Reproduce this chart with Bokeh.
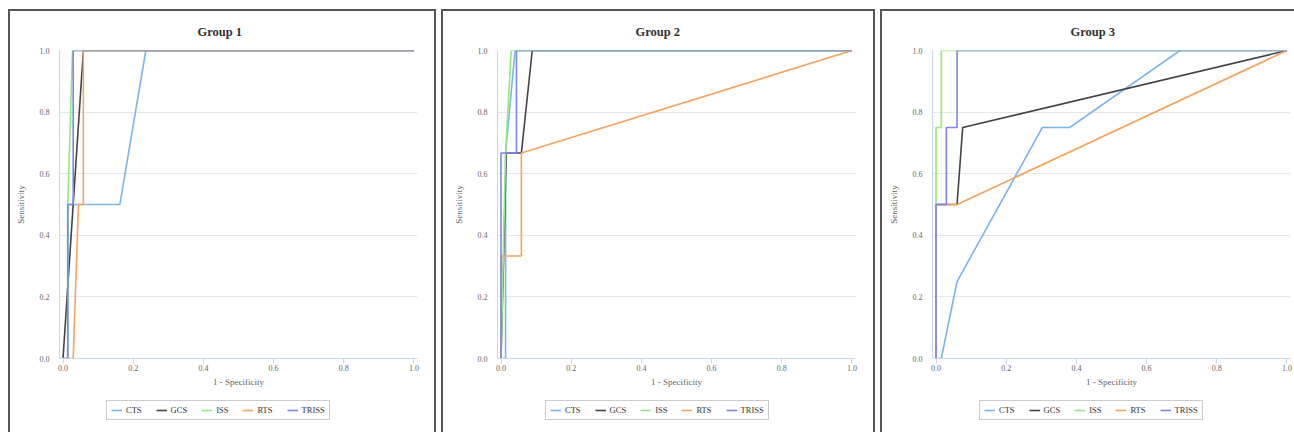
from bokeh.plotting import figure
from bokeh.layouts import row, column
from bokeh.models import Legend, LegendItem, Range1d, FixedTicker, PrintfTickFormatter
from bokeh.embed import file_html
from bokeh.resources import INLINE

series_names = ["CTS", "GCS", "ISS", "RTS", "TRISS"]
series_colors = ["#7cb5ec", "#434348", "#90ed7d", "#f7a35c", "#8085e9"]
ticks = [0.0, 0.2, 0.4, 0.6, 0.8, 1.0]

# Group 1 (x = 1 - specificity, y = sensitivity)
g1_cts_x = [0.0, 0.0135, 0.0135, 0.162, 0.236, 1.0]
g1_cts_y = [0.0, 0.0, 0.5, 0.5, 1.0, 1.0]
g1_gcs_x = [0.0, 0.058, 1.0]
g1_gcs_y = [0.0, 1.0, 1.0]
g1_iss_x = [0.0, 0.0135, 0.0135, 0.027, 1.0]
g1_iss_y = [0.0, 0.0, 0.5, 1.0, 1.0]
g1_rts_x = [0.0, 0.029, 0.044, 0.058, 0.058, 1.0]
g1_rts_y = [0.0, 0.0, 0.5, 0.5, 1.0, 1.0]
g1_triss_x = [0.0, 0.0135, 0.0135, 0.029, 0.029, 1.0]
g1_triss_y = [0.0, 0.0, 0.5, 0.5, 1.0, 1.0]

# Group 2
g2_cts_x = [0.0, 0.013, 0.013, 0.04, 1.0]
g2_cts_y = [0.0, 0.0, 0.667, 1.0, 1.0]
g2_gcs_x = [0.0, 0.015, 0.058, 0.089, 1.0]
g2_gcs_y = [0.0, 0.667, 0.667, 1.0, 1.0]
g2_iss_x = [0.0, 0.013, 0.029, 1.0]
g2_iss_y = [0.0, 0.667, 1.0, 1.0]
g2_rts_x = [0.0, 0.0, 0.058, 0.058, 1.0]
g2_rts_y = [0.0, 0.333, 0.333, 0.667, 1.0]
g2_triss_x = [0.0, 0.0, 0.044, 0.044, 1.0]
g2_triss_y = [0.0, 0.667, 0.667, 1.0, 1.0]

# Group 3
g3_cts_x = [0.0, 0.015, 0.06, 0.303, 0.381, 0.695, 1.0]
g3_cts_y = [0.0, 0.0, 0.25, 0.75, 0.75, 1.0, 1.0]
g3_gcs_x = [0.0, 0.0, 0.06, 0.076, 1.0]
g3_gcs_y = [0.0, 0.5, 0.5, 0.75, 1.0]
g3_iss_x = [0.0, 0.0, 0.015, 0.015, 1.0]
g3_iss_y = [0.0, 0.75, 0.75, 1.0, 1.0]
g3_rts_x = [0.0, 0.0, 0.06, 1.0]
g3_rts_y = [0.0, 0.5, 0.5, 1.0]
g3_triss_x = [0.0, 0.0, 0.0295, 0.0295, 0.06, 0.06, 1.0]
g3_triss_y = [0.0, 0.5, 0.5, 0.75, 0.75, 1.0, 1.0]

groups = [
    ("Group 1", [(g1_cts_x, g1_cts_y), (g1_gcs_x, g1_gcs_y), (g1_iss_x, g1_iss_y),
                 (g1_rts_x, g1_rts_y), (g1_triss_x, g1_triss_y)]),
    ("Group 2", [(g2_cts_x, g2_cts_y), (g2_gcs_x, g2_gcs_y), (g2_iss_x, g2_iss_y),
                 (g2_rts_x, g2_rts_y), (g2_triss_x, g2_triss_y)]),
    ("Group 3", [(g3_cts_x, g3_cts_y), (g3_gcs_x, g3_gcs_y), (g3_iss_x, g3_iss_y),
                 (g3_rts_x, g3_rts_y), (g3_triss_x, g3_triss_y)]),
]

SERIF = "Liberation Serif"
MAIN_H = 387
LEG_H = 34


def make_panel(title, data, width, left_border, right_border, legend_x, box_style):
    p = figure(width=width, height=MAIN_H, output_backend="svg", toolbar_location=None,
               title=title,
               x_range=Range1d(-0.01, 1.01), y_range=Range1d(0.0, 1.0),
               min_border_left=left_border, min_border_right=right_border,
               min_border_top=38, min_border_bottom=MAIN_H - 38 - 309)
    p.outline_line_color = None
    p.title.align = "left"
    p.title.offset = 138
    p.title.text_font = SERIF
    p.title.text_font_size = "12.5px"
    p.title.text_font_style = "bold"
    p.title.text_color = "#333333"
    p.title.standoff = 23

    for (xs, ys), col in zip(data, series_colors):
        p.line(xs, ys, line_color=col, line_width=1.6)

    for ax in (p.xaxis[0], p.yaxis[0]):
        ax.ticker = FixedTicker(ticks=ticks)
        ax.formatter = PrintfTickFormatter(format="%.1f")
        ax.major_label_text_font = SERIF
        ax.major_label_text_font_size = "8px"
        ax.major_label_text_color = "#666666"
        ax.axis_label_text_font = SERIF
        ax.axis_label_text_font_size = "9px"
        ax.axis_label_text_font_style = "normal"
        ax.axis_label_text_color = "#666666"
        ax.minor_tick_line_color = None
        ax.axis_line_color = "#ccd6eb"
    p.xaxis.axis_label = "1 - Specificity"
    p.yaxis.axis_label = "Sensitivity"
    p.xaxis.major_tick_line_color = "#ccd6eb"
    p.xaxis.major_tick_out = 5
    p.xaxis.major_tick_in = 0
    p.xaxis.major_label_standoff = 1
    p.xaxis.axis_label_standoff = 3
    p.yaxis.major_tick_line_color = None
    p.yaxis.major_tick_out = 0
    p.yaxis.major_tick_in = 0
    p.yaxis.major_label_standoff = 10
    p.yaxis.axis_label_standoff = 11

    p.xgrid.grid_line_color = None
    p.ygrid.ticker = FixedTicker(ticks=ticks)
    p.ygrid.grid_line_color = "#e6e6e6"

    # legend strip under the chart, inside the same bordered box
    # (same series drawn again but scrolled out of view; only the legend shows)
    q = figure(width=width, height=LEG_H, output_backend="svg", toolbar_location=None,
               x_range=Range1d(10, 11), y_range=Range1d(10, 11),
               min_border_left=0, min_border_right=0, min_border_top=0, min_border_bottom=0)
    q.axis.visible = False
    q.grid.visible = False
    q.outline_line_color = None
    items = []
    for (xs, ys), name, col in zip(data, series_names, series_colors):
        r = q.line(xs, ys, line_color=col, line_width=1.6)
        items.append(LegendItem(label=name, renderers=[r]))
    legend = Legend(items=items, orientation="horizontal", location=(legend_x, 12))
    legend.border_line_color = "#999999"
    legend.border_line_width = 1
    legend.background_fill_color = "white"
    legend.background_fill_alpha = 1.0
    legend.label_text_font = SERIF
    legend.label_text_font_size = "8.5px"
    legend.label_text_color = "#333333"
    legend.glyph_width = 11
    legend.glyph_height = 8
    legend.label_height = 8
    legend.label_width = 1
    legend.label_standoff = 4
    legend.spacing = 14
    legend.padding = 4
    legend.margin = 0
    q.add_layout(legend)

    return column(p, q, spacing=0, styles=box_style)


BORDER = "2px solid #555555"
b1 = {"border": BORDER, "border-bottom": "none", "margin-top": "9px", "margin-left": "8px"}
b2 = {"border": BORDER, "border-bottom": "none", "margin-top": "9px"}
b3 = {"border": BORDER, "border-bottom": "none", "border-right": "none", "margin-top": "9px"}

c1 = make_panel(groups[0][0], groups[0][1], 424, 49, 17, 47, b1)
c2 = make_panel(groups[1][0], groups[1][1], 430, 54, 18, 48, b2)
c3 = make_panel(groups[2][0], groups[2][1], 412, 50, 4, 47, b3)

layout = row(c1, c2, c3, spacing=5)
open("out.html", "w").write(file_html(layout, INLINE))
